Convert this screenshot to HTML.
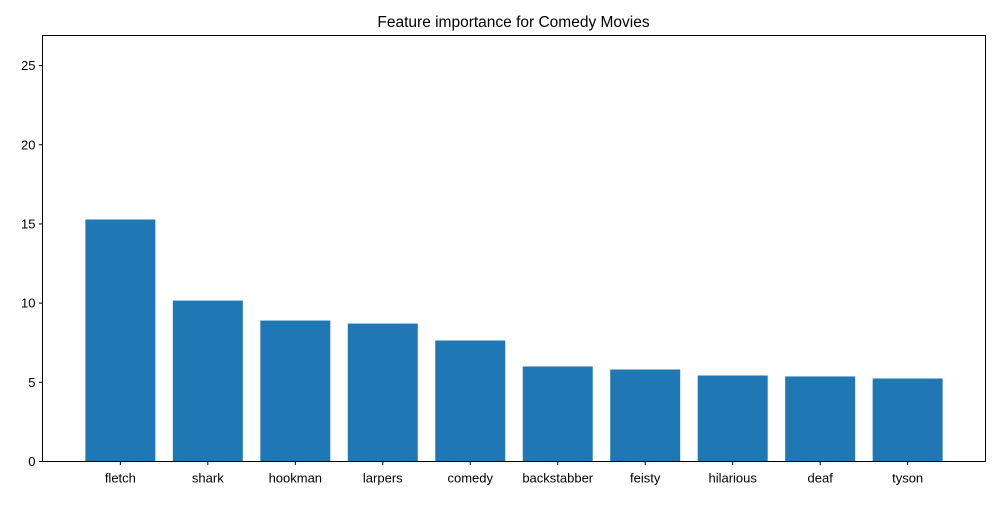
<!DOCTYPE html>
<html><head><meta charset="utf-8"><style>
body{margin:0;background:#fff;}
svg text{font-family:"Liberation Sans","DejaVu Sans",sans-serif;font-size:13px;fill:#000;}
</style></head><body>
<svg id="chart" width="1000" height="500" xmlns="http://www.w3.org/2000/svg">
<rect width="1000" height="500" fill="#fff"/>
<text x="513.5" y="27" text-anchor="middle" font-size="15.5" style="font-size:15.5px">Feature importance for Comedy Movies</text>
<g id="bars"></g>
<g id="yticks"></g>
<g id="xticks"></g>
<rect x="42.5" y="35.5" width="943" height="426" fill="none" stroke="#000" stroke-width="1"/>
</svg>
<script>
const categories=["fletch","shark","hookman","larpers","comedy","backstabber","feisty","hilarious","deaf","tyson"];
const values=[15.28,10.16,8.9,8.71,7.64,6.0,5.81,5.43,5.37,5.24];
const yTickLabels=[0,5,10,15,20,25];
const L=42.5,R=985.5,T=35.5,B=461.5;
const xMin=-0.89,xMax=9.89,yMax=26.9;
const xs=v=>L+(v-xMin)/(xMax-xMin)*(R-L);
const ys=v=>B-v/yMax*(B-T);
const NS="http://www.w3.org/2000/svg";
const bars=document.getElementById('bars'),yt=document.getElementById('yticks'),xt=document.getElementById('xticks');
function mk(t,a,p){const e=document.createElementNS(NS,t);for(const k in a)e.setAttribute(k,a[k]);p.appendChild(e);return e;}
const bw=(xs(0.4)-xs(-0.4));
categories.forEach((c,i)=>{
  const r=mk('rect',{x:xs(i)-bw/2,y:ys(values[i]),width:bw,height:B-ys(values[i]),fill:'#1f77b4'},bars);
  
  
  const tk=mk('line',{x1:xs(i),x2:xs(i),y1:B,y2:B+3.5,stroke:'#000'},xt);
  
  
  const t=mk('text',{x:xs(i),y:B+21,'text-anchor':'middle'},xt);
  t.textContent=c;
  
  
});
yTickLabels.forEach(v=>{
  const tk=mk('line',{x1:L-3.5,x2:L,y1:ys(v),y2:ys(v),stroke:'#000'},yt);
  
  
  const t=mk('text',{x:L-7,y:ys(v)+4.5,'text-anchor':'end'},yt);
  t.textContent=v;
  
  
});
</script>
</body></html>
